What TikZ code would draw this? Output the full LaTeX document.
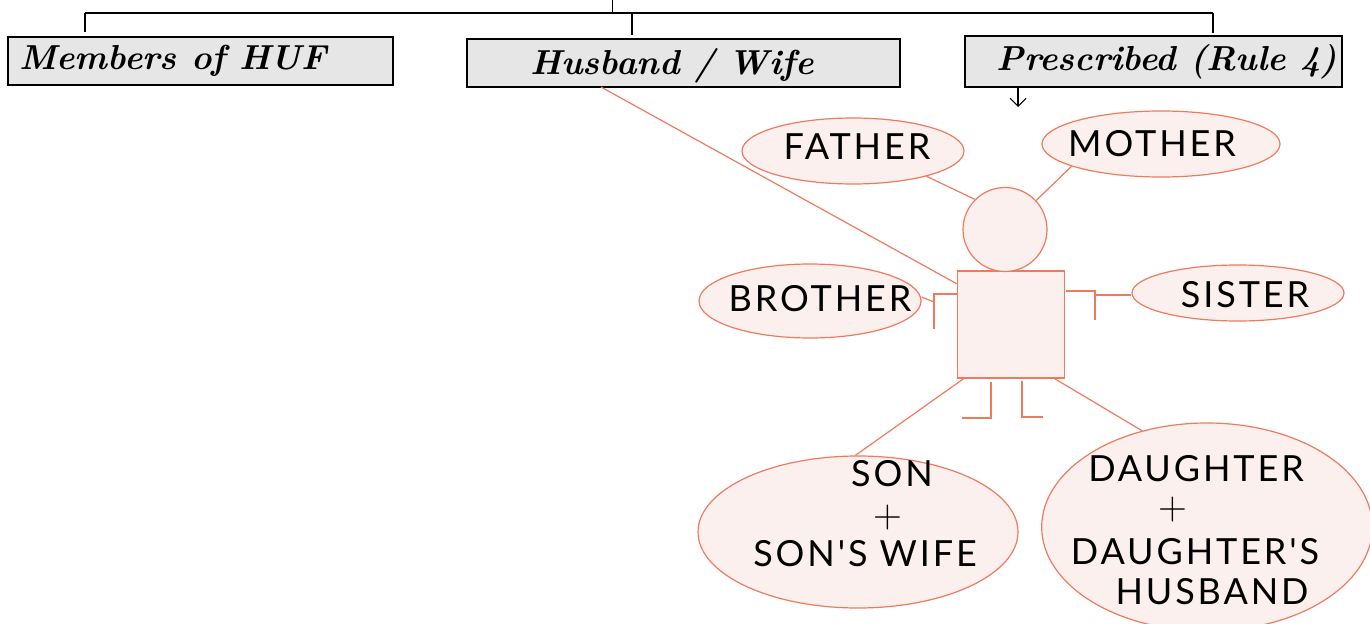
\documentclass[tikz,border=0pt]{standalone}
\usepackage{fontspec}
\newfontfamily\printfont[LetterSpace=8]{Lato}
\usetikzlibrary{shapes.geometric,arrows.meta}
\definecolor{salmon}{HTML}{EE7B5F}
\definecolor{blush}{HTML}{FCF0EE}
\definecolor{boxgray}{HTML}{E6E6E6}
\tikzset{
    headbox/.style={draw=black, fill=boxgray, inner sep=0pt, line width=0.9pt},
    limb/.style={draw=salmon, line width=0.9pt},
    person/.style={draw=salmon, fill=blush, line width=0.9pt, inner sep=0pt},
    relative/.style={person, ellipse},
    printed/.style={inner sep=0pt, text=black, font=\printfont\fontsize{27}{27}\selectfont},
    plussign/.style={inner sep=0pt, text=black, font=\fontsize{30}{30}\selectfont},
    written/.style={inner sep=0pt, text=black, font=\bfseries\itshape\fontsize{26}{26}\selectfont},
}
\begin{document}
\begin{tikzpicture}[x=0.75pt,y=0.75pt,yscale=-1,xscale=1]
            \useasboundingbox (0, 0) rectangle (1370, 624);
            %top bus
            \coordinate (stub) at (612, 0);
            \coordinate (busleft) at (85, 13);
            \coordinate (busmid) at (632, 13);
            \coordinate (busright) at (1213, 13);
            \coordinate (busstub) at (612, 13);
            %head boxes
            \node [headbox, minimum width=288.75pt, minimum height=36pt] (members) at (200.5, 61) {};
            \node [headbox, minimum width=324.75pt, minimum height=36pt] (husband) at (683.5, 63) {};
            \node [headbox, minimum width=282.75pt, minimum height=38.25pt] (prescribed) at (1153.5, 61.5) {};
            \draw [line width=0.7pt] (stub) -- (busstub);
            \draw [line width=1pt] (busleft) -- (busright);
            \draw [line width=0.8pt, shorten >=3.5pt] (busleft) -- (busleft |- members.north);
            \draw [line width=0.8pt, shorten >=2.25pt] (busmid) -- (busmid |- husband.north);
            \draw [line width=0.8pt, shorten >=1.5pt] (busright) -- (busright |- prescribed.north);
            \node [written] (memberstxt) at (173, 61) {Members of HUF};
            \node [written] (husbandtxt) at (672, 66) {Husband / Wife};
            \node [written] (prescribedtxt) at (1167, 62) {Prescribed (Rule 4)};
            %small arrow
            \coordinate (prescribedfoot) at (1018, 87);
            \coordinate (prescribedtip) at (1018, 107);
            \draw [-{Straight Barb[length=6pt,width=12pt]}, line width=0.8pt] (prescribedfoot) -- (prescribedtip);
            %lines under the shapes
            \coordinate (husbandfoot) at (601, 87);
            %body and head
            \node [person, rectangle, minimum width=80.25pt, minimum height=80.25pt] (body) at (1010.75, 324.5) {};
            \node [person, circle, minimum size=63pt] (head) at (1005, 229.5) {};
            %relatives
            \node [relative, minimum width=166.5pt, minimum height=49.5pt] (father) at (853, 151) {};
            \node [relative, minimum width=178.5pt, minimum height=49.5pt] (mother) at (1161, 144) {};
            \node [relative, minimum width=166.5pt, minimum height=55.5pt] (brother) at (810, 301) {};
            \node [relative, minimum width=159pt, minimum height=42pt] (sister) at (1238, 293) {};
            \node [relative, minimum width=240pt, minimum height=114pt] (son) at (858, 532) {};
            \node [relative, minimum width=248pt, minimum height=156pt] (daughter) at (1207, 527) {};
            %connectors
            \draw [limb] (husbandfoot) -- (body.143.6);
            \draw [limb] (father.-19) -- (head.135);
            \draw [limb] (mother.194) -- (head.43);
            \draw [limb] (body.-131) -- (son.92);
            \draw [limb] (body.-51) -- (daughter.124.5);
            %arms
            \coordinate (leftshoulder) at (958, 294);
            \coordinate (leftelbow) at (934, 294);
            \coordinate (lefthand) at (934, 329);
            \coordinate (leftlink) at (934, 302);
            \coordinate (rightshoulder) at (1066, 291);
            \coordinate (rightelbow) at (1095, 291);
            \coordinate (righthand) at (1095, 320);
            \coordinate (rightlink) at (1095, 295);
            \draw [limb] (leftshoulder) -- (leftelbow) -- (lefthand);
            \draw [limb] (brother.east) ++(0, -4) -- (leftlink);
            \draw [limb] (rightshoulder) -- (rightelbow) -- (righthand);
            \draw [limb] (rightlink) -- (rightlink -| sister.west);
            %legs
            \coordinate (lefthip) at (991, 382);
            \coordinate (leftknee) at (991, 418);
            \coordinate (leftfoot) at (962, 418);
            \coordinate (righthip) at (1022, 381);
            \coordinate (rightknee) at (1022, 417);
            \coordinate (rightfoot) at (1043, 417);
            \draw [limb] (lefthip) -- (leftknee) -- (leftfoot);
            \draw [limb] (righthip) -- (rightknee) -- (rightfoot);
            %texts
            \node [printed] (fathertxt) at (857, 147) {FATHER};
            \node [printed] (mothertxt) at (1152, 144) {MOTHER};
            \node [printed] (brothertxt) at (820, 299) {BROTHER};
            \node [printed] (sistertxt) at (1245, 295) {SISTER};
            \node [printed] (sontxt) at (892, 474) {SON};
            \node [plussign] (sonplus) at (888, 518) {+};
            \node [printed] (sonwifetxt) at (865, 554) {SON'S WIFE};
            \node [printed] (daughtertxt) at (1196, 469) {DAUGHTER};
            \node [plussign] (daughterplus) at (1173, 510) {+};
            \node [printed] (daughterstxt) at (1195, 552) {DAUGHTER'S};
            \node [printed] (husbandcaps) at (1212, 592) {HUSBAND};
\end{tikzpicture}
\end{document}
